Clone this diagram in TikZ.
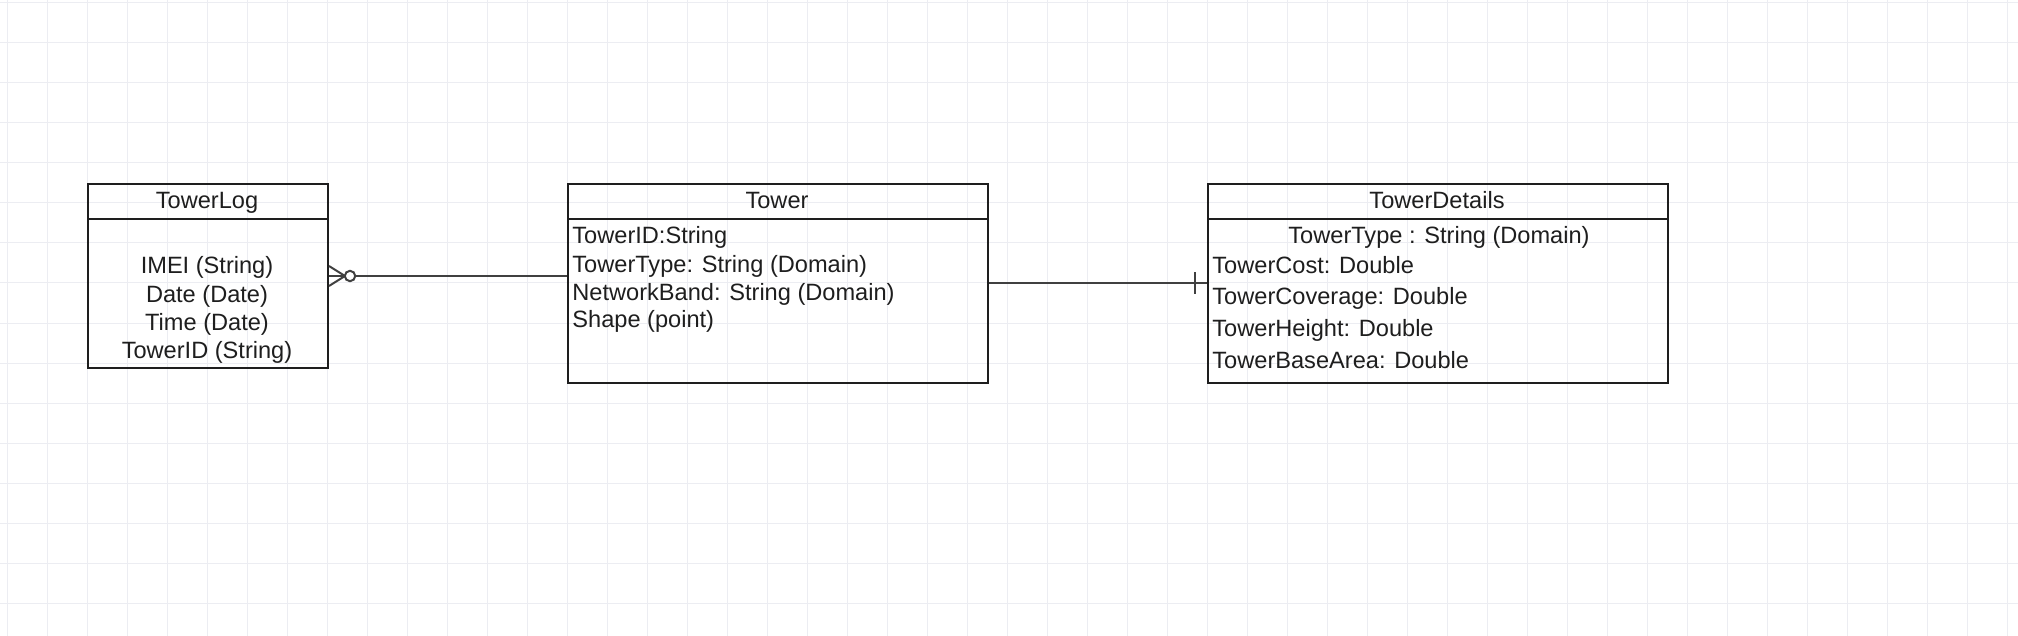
\documentclass[tikz,border=0pt]{standalone}
\usepackage{fontspec}
\setmainfont{Liberation Sans}
\definecolor{gridgray}{RGB}{236,237,242}
\definecolor{ink}{RGB}{30,30,30}
\tikzset{
  entity/.style={draw=ink, line width=1pt, inner sep=0pt, anchor=north west},
  title/.style={anchor=base, inner sep=0pt, text=ink},
  attr/.style={anchor=base west, inner sep=0pt, text=ink},
  attrc/.style={anchor=base, inner sep=0pt, text=ink},
  link/.style={draw=black!75, line width=1pt},
  gridline/.style={draw=gridgray, line width=0.5pt}
}
\begin{document}
\begin{tikzpicture}[x=0.5pt,y=-0.5pt,font=\fontsize{11.8}{14}\selectfont]
\useasboundingbox (0,0) rectangle (2018,636);
% background grid
\foreach \gx in {7,47,...,2007} \draw[gridline] (\gx,0) -- (\gx,636);
\foreach \gy in {3,43,...,603} \draw[gridline] (0,\gy) -- (2018,\gy);

% entity boxes
\node[entity, minimum width=120pt, minimum height=92pt] (log) at (87,183) {};
\node[entity, minimum width=210pt, minimum height=99.5pt] (tower) at (567,183) {};
\node[entity, minimum width=230pt, minimum height=99.5pt] (details) at (1207,183) {};

% header separators
\draw[draw=ink, line width=1pt] ([yshift=-18pt]log.north west) -- ([yshift=-18pt]log.north east);
\draw[draw=ink, line width=1pt] ([yshift=-18pt]tower.north west) -- ([yshift=-18pt]tower.north east);
\draw[draw=ink, line width=1pt] ([yshift=-18pt]details.north west) -- ([yshift=-18pt]details.north east);

% titles
\node[title] (logtitle) at (207,209) {TowerLog};
\node[title] (towertitle) at (777,209) {Tower};
\node[title] (detailstitle) at (1437,209) {TowerDetails};

% TowerLog attributes
\node[attrc] (imei) at (207,274) {IMEI (String)};
\node[attrc] (logdate) at (207,302) {Date (Date)};
\node[attrc] (logtime) at (207,330) {Time (Date)};
\node[attrc] (logtower) at (207,358) {TowerID (String)};

% Tower attributes
\node[attr] (towerid) at (572,244) {TowerID:String};
\node[attr] (towertype) at (572,272) {TowerType: String (Domain)};
\node[attr] (band) at (572,300) {NetworkBand: String (Domain)};
\node[attr] (shape) at (572,328) {Shape (point)};

% TowerDetails attributes
\node[attrc] (dtype) at (1439,244) {TowerType : String (Domain)};
\node[attr] (cost) at (1212,274) {TowerCost: Double};
\node[attr] (coverage) at (1212,305) {TowerCoverage: Double};
\node[attr] (height) at (1212,336) {TowerHeight: Double};
\node[attr] (area) at (1212,368) {TowerBaseArea: Double};

% relationships
\draw[link] (log.east) -- (log.east -| tower.west);
\draw[link] ([yshift=5pt]log.east) -- ([xshift=8pt]log.east) -- ([yshift=-5pt]log.east);
\draw[link, fill=white] ([xshift=10.5pt]log.east) circle[radius=2.6pt];

\draw[link] (tower.east) -- (details.west);
\draw[link] ([xshift=-6pt,yshift=5.5pt]details.west) -- ([xshift=-6pt,yshift=-5.5pt]details.west);

\end{tikzpicture}
\end{document}
